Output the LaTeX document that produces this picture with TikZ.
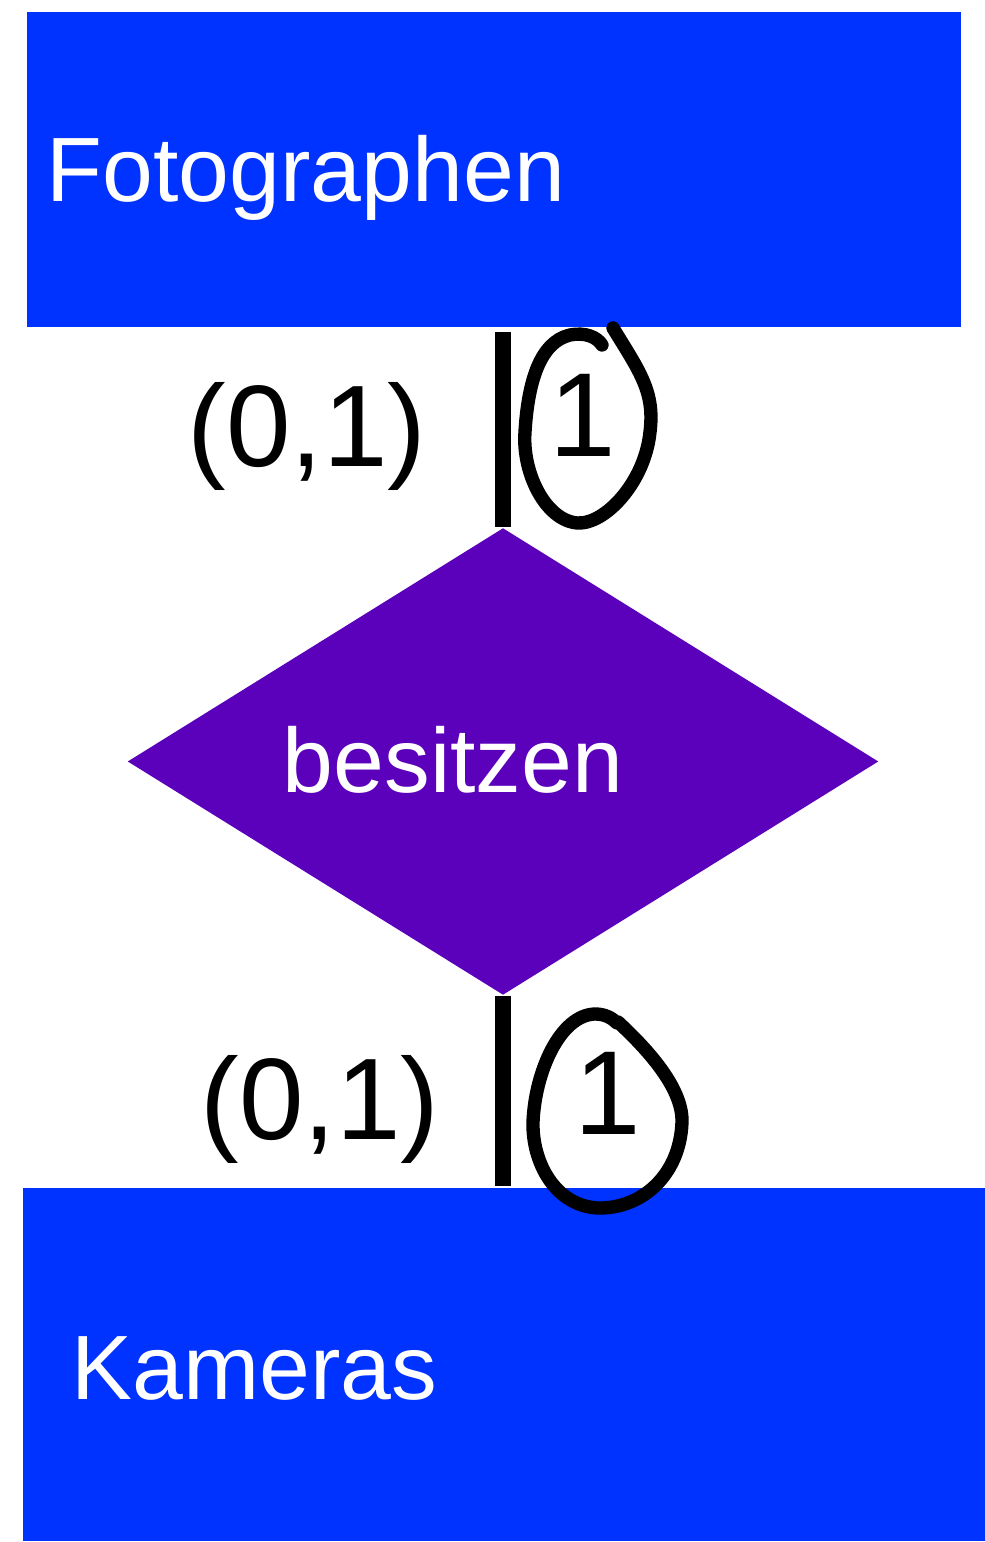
\documentclass[tikz,border=0pt]{standalone}
\usepackage{fontspec}
\setmainfont{Liberation Sans}
\usepackage{tikz}
\usetikzlibrary{shapes.geometric, positioning, calc}

\definecolor{entblue}{RGB}{0,51,255}
\definecolor{relpurple}{RGB}{91,0,187}

\tikzset{
    entity/.style={rectangle, fill=entblue, draw=none, inner sep=0pt},
    relation/.style={diamond, fill=relpurple, draw=none, inner sep=0pt, minimum width=7.51cm, minimum height=4.67cm},
    lbl/.style={text=white, inner sep=0pt, anchor=base west, font=\fontsize{26}{30}\selectfont},
    card/.style={inner sep=0pt, anchor=base, font=\fontsize{33}{38}\selectfont},
    conn/.style={line width=4.5pt},
    hand/.style={line width=3.8pt, line cap=round, line join=round}
}

\begin{document}
\begin{tikzpicture}
    \useasboundingbox (0,0) rectangle (9.85,15.42);

    % Entities
    \node[entity, minimum width=9.34cm, minimum height=3.15cm, anchor=south west] (fot) at (0.26,12.14) {};
    \node[entity, minimum width=9.63cm, minimum height=3.53cm, anchor=south west] (kam) at (0.22,0) {};
    \node[lbl] (fottext) at (0.46,13.40) {Fotographen};
    \node[lbl] (kamtext) at (0.71,1.42) {Kameras};

    % Relationship
    \node[relation] (bes) at (5.03,7.805) {};
    \node[lbl, anchor=base] (bestext) at (4.53,7.49) {besitzen};

    % Connectors
    \draw[conn] ($(bes.north |- fot.south)+(0,-0.04)$) -- (bes.north);
    \draw[conn] (bes.south) -- ($(bes.south |- kam.north)+(0,0.02)$);

    % Cardinalities
    \node[card] (c1) at (3.07,10.75) {(0,1)};
    \node[card] (c2) at (3.20,4.02) {(0,1)};
    \node[card, font=\fontsize{34}{40}\selectfont] (n1) at (5.83,10.85) {1};
    \node[card, font=\fontsize{34}{40}\selectfont] (n2) at (6.08,4.07) {1};

    % Hand drawn circles round the 1
    \draw[hand] (6.13,12.14) .. controls (6.40,11.70) and (6.55,11.50) .. (6.50,11.10)
        .. controls (6.45,10.60) and (6.05,10.17) .. (5.77,10.19)
        .. controls (5.45,10.22) and (5.22,10.70) .. (5.25,11.10)
        .. controls (5.28,11.60) and (5.40,12.00) .. (5.70,12.07)
        .. controls (5.85,12.10) and (5.97,12.05) .. (6.02,11.97);
    \draw[hand] (6.18,5.20) .. controls (6.45,4.95) and (6.83,4.55) .. (6.82,4.20)
        .. controls (6.80,3.65) and (6.40,3.33) .. (5.98,3.34)
        .. controls (5.55,3.36) and (5.32,3.80) .. (5.33,4.20)
        .. controls (5.35,4.70) and (5.60,5.27) .. (5.95,5.28)
        .. controls (6.05,5.28) and (6.12,5.24) .. (6.17,5.19);
\end{tikzpicture}
\end{document}
